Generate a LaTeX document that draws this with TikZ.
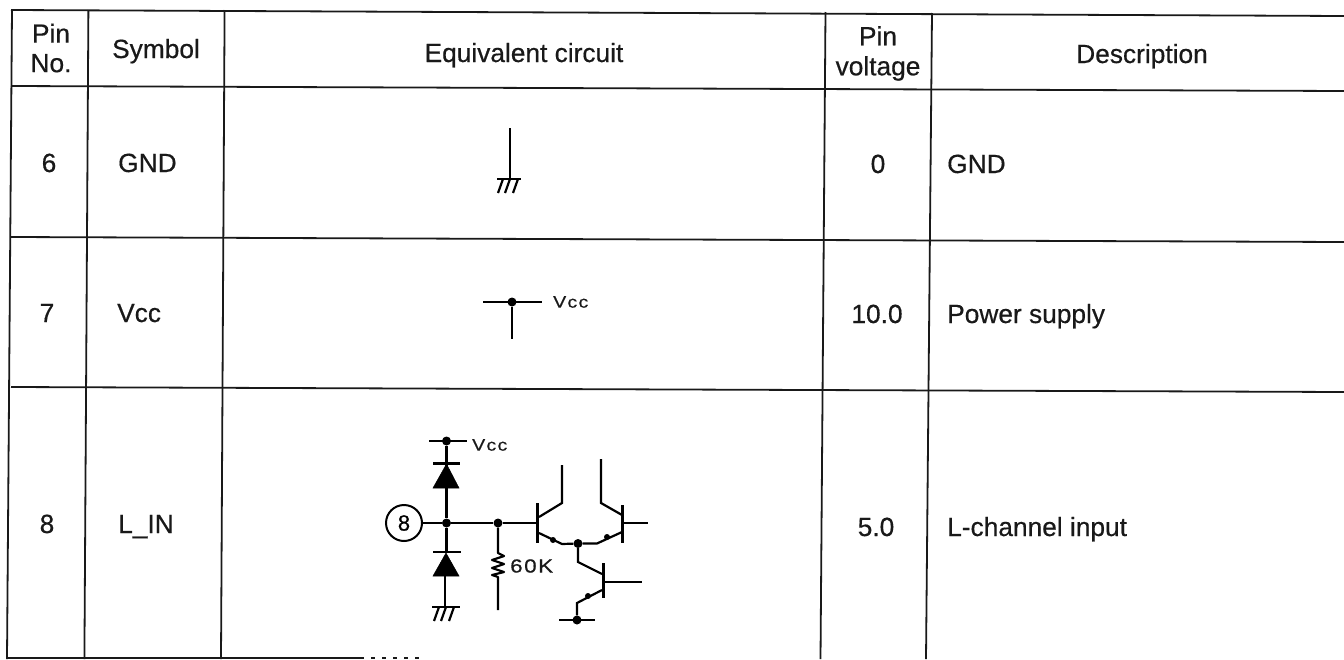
\documentclass[tikz,border=0pt]{standalone}
\usepackage{fontspec}
\setmainfont[FakeBold=0.5]{Liberation Sans}
\newfontfamily\widefont[FakeStretch=1.18,LetterSpace=8,FakeBold=0.5]{Liberation Sans}
\tikzset{
  x=1pt,y=-1pt,
  rule/.style={line width=1.8pt,black!90},
  wire/.style={line width=2.2pt,black},
  lbl/.style={font=\fontsize{26.3}{29.5}\selectfont,align=center,inner sep=0pt,text=black!90},
  one/.style={lbl,anchor=base},
  lft/.style={lbl,anchor=base west},
  small/.style={font=\widefont\fontsize{16.5}{20}\selectfont,inner sep=0pt,text=black!90},
  big/.style={font=\widefont\fontsize{19}{22}\selectfont,inner sep=0pt,text=black!90},
  junction/.style={circle,fill=black,inner sep=0pt,minimum size=9pt},
  tick/.style={circle,fill=black,inner sep=0pt,minimum size=6pt},
  diodetri/.style={fill=black,draw=black,line width=0.5pt},
}
\begin{document}
\begin{tikzpicture}
\useasboundingbox (0,0) rectangle (1344,659);
% table rules
\draw[rule] (11,10) -- (1344,16);
\draw[rule] (11,86) -- (1344,91);
\draw[rule] (11,237) -- (1344,242);
\draw[rule] (11,387) -- (1344,392);
\draw[rule] (7,658) -- (360,658);
\draw[rule,dash pattern=on 4pt off 7pt] (360,658) -- (419,658);
\draw[rule] (12,10) -- (7,659);
\draw[rule] (88.4,10) -- (84.4,659);
\draw[rule] (224.6,10) -- (221,659);
\draw[rule] (825.5,12) -- (820.5,659);
\draw[rule] (932,13) -- (926,659);
% header
\node[lbl] (h1) at (51,48) {Pin\\No.};
\node[one] (h2) at (156,58) {Symbol};
\node[one] (h3) at (524,62) {Equivalent circuit};
\node[lbl,font=\fontsize{26.3}{30}\selectfont] (h4) at (878,53.5) {Pin\\voltage};
\node[one] (h5) at (1142,63) {Description};
% row texts
\node[one] (p6) at (49,172) {6};
\node[lft] (s6) at (118,172) {GND};
\node[one] (v6) at (878,173) {0};
\node[lft] (d6) at (947,173) {GND};
\node[one] (p7) at (47,322) {7};
\node[lft] (s7) at (117,322) {Vcc};
\node[one] (v7) at (877,323) {10.0};
\node[lft] (d7) at (947,323) {Power supply};
\node[one] (p8) at (47,533) {8};
\node[lft] (s8) at (118,533) {L\_IN};
\node[one] (v8) at (876,536) {5.0};
\node[lft] (d8) at (947,536) {L-channel input};
% --- GND symbol
\coordinate (g0) at (510,128);
\coordinate (g1) at (510,179);
\draw[wire] (g0) -- (g1);
\draw[wire] (497,179) -- (521,179);
\foreach \x in {503,510,518} \draw[wire] (\x,179) -- (\x-5,193);
% --- Vcc symbol
\node[junction] (vj) at (512,302) {};
\coordinate (vl) at (483,302);
\coordinate (vr) at (542,302);
\coordinate (vd) at (512,339);
\draw[wire] (vl) -- (vr);
\draw[wire] (vj) -- (vd);
\node[small,anchor=west] (vt) at (553,302) {Vcc};
% --- input circuit
\node[draw,circle,line width=2pt,minimum size=36pt,inner sep=0pt,font=\fontsize{22}{24}\selectfont] (in) at (404,523) {8};
\node[junction] (j1) at (446.5,523) {};
\node[junction] (j2) at (498,523) {};
\node[junction] (vcc) at (446.5,441) {};
\draw[wire] (429,441) -- (467,441);
\node[small,anchor=west] (vcct) at (472,445) {Vcc};
\coordinate (b1) at (537,523);
\draw[wire] (in) -- (j1) -- (j2) -- (b1);
% upper diode
\draw[wire] (vcc) -- (j1);
\draw[wire] (433,463.5) -- (460,463.5);
\draw[diodetri] (446.5,464) -- (459,488) -- (433,488) -- cycle;
% lower diode
\draw[wire] (j1) -- (446.5,552);
\draw[wire] (433,552) -- (461,552);
\draw[diodetri] (446,553) -- (459,576) -- (433,576) -- cycle;
\coordinate (gnd) at (445,607);
\draw[wire] (445,576) -- (gnd);
\draw[wire] (432,607) -- (460,607);
\foreach \x in {439,446,454} \draw[wire] (\x,607) -- (\x-5,621);
% resistor
\coordinate (r0) at (498,553);
\coordinate (r1) at (498,577);
\coordinate (r2) at (498,610);
\draw[wire,line join=round] (j2) -- (r0) -- (504,556) -- (492,560) -- (504,564) -- (492,568) -- (504,572) -- (492,575) -- (r1) -- (r2);
\node[big,anchor=west] (rt) at (510,566) {60K};
% left transistor
\draw[line width=3pt] (537,503) -- (537,543);
\coordinate (c1) at (562,503);
\node[junction] (e) at (578,543.5) {};
\draw[wire] (562,465) -- (c1) -- (539,517);
\draw[wire] (539,533) -- (562,544) -- (e);
\node[tick] at (553,540) {};
% right transistor
\draw[line width=3pt] (622,505) -- (622,543);
\coordinate (c2) at (601,503);
\draw[wire] (601,459) -- (c2) -- (622,515);
\draw[wire] (e) -- (597,543.5) -- (622,532);
\node[tick] at (607,537) {};
\coordinate (b2) at (648,523);
\draw[wire] (622,523) -- (b2);
% lower transistor
\draw[line width=3pt] (603,563) -- (603,598);
\coordinate (k) at (578,562);
\draw[wire] (e) -- (k) -- (602,574);
\coordinate (b3) at (642,582);
\draw[wire] (603,582) -- (b3);
\node[junction] (bot) at (577,620) {};
\draw[wire] (602,590) -- (577,603) -- (bot);
\node[tick] at (588,596) {};
\draw[wire] (559,620) -- (595,620);
\end{tikzpicture}
\end{document}
